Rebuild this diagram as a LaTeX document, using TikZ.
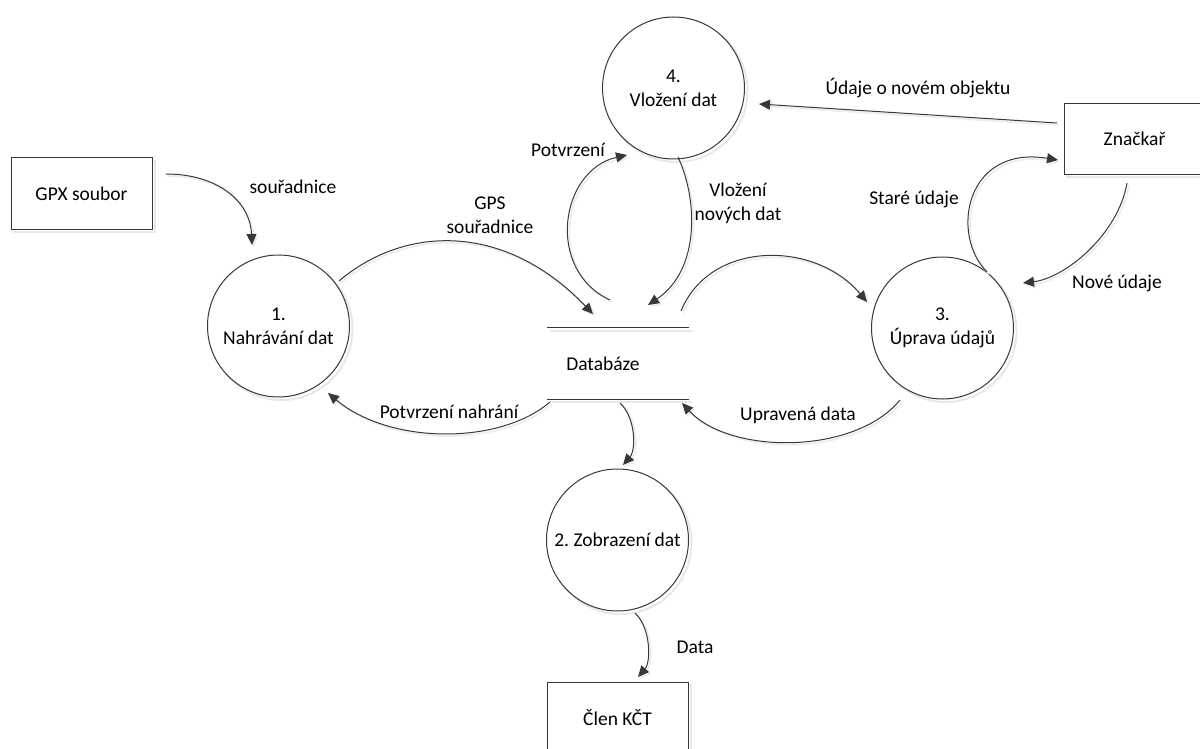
\documentclass[tikz,border=0pt]{standalone}
\usepackage{fontspec}
\setmainfont{Carlito}
\usetikzlibrary{arrows.meta,calc}
\begin{document}
\begin{tikzpicture}[x=0.5pt,y=-0.5pt,
  font=\fontsize{9.75}{12}\selectfont,
  ink/.style={draw=black!78, line width=0.5pt},
  softshadow/.style={preaction={draw=black!9, line width=1pt, transform canvas={shift={(3,3)}}}},
  proc/.style={circle, ink, fill=white, softshadow, minimum size=71pt, inner sep=0pt, align=center},
  ent/.style={rectangle, ink, fill=white, softshadow, minimum width=70.5pt, minimum height=35.5pt, inner sep=0pt},
  flow/.style={ink, -{Triangle[length=5.5pt,width=5pt]},
    preaction={draw=black!7, line width=0.9pt, transform canvas={shift={(2,2)}}}},
  lbl/.style={align=center, inner sep=0pt}]

\useasboundingbox (0,0) rectangle (1200,749);
\clip (0,0) rectangle (1200,749);

% external entities
\node[ent] (gpx)  at (81.5,193.5) {GPX soubor};
\node[ent] (zn)   at (1134.5,139) {Značkař};
\node[ent] (clen) at (617.5,717.5) {Člen KČT};

% processes
\node[proc] (p1) at (278.5,326) {1.\\Nahrávání dat};
\node[proc] (p4) at (673.5,88)  {4.\\Vložení dat};
\node[proc] (p3) at (942.5,328) {3.\\Úprava údajů};
\node[proc] (p2) at (617.5,540) {2.\ Zobrazení dat};

% data store
\node[minimum width=71pt, minimum height=35.5pt, inner sep=0pt] (db) at (618,363.5) {};
\draw[ink, softshadow] (db.north west) -- (db.north east);
\draw[ink, softshadow] (db.south west) -- (db.south east);
\node[lbl] (dbtext) at (603,364) {Databáze};

% data flows
\draw[flow] ($(gpx)+(84.5,-19.5)$) .. controls +(50,0) and +(-2,-45) .. ($(p1)+(-26.5,-81)$);
\draw[flow] ($(p1)+(60.5,-45)$) .. controls +(66,-56) and +(-88,-92) .. ($(db)+(-25,-49.5)$);
\draw[flow] ($(db)+(-8,-63.5)$) .. controls +(-65,-30) and +(-67,15) .. ($(p4)+(-46.5,67)$);
\draw[flow] ($(p4)+(4.5,69)$) .. controls +(20,43) and +(52,-35) .. ($(db)+(30,-58.5)$);
\draw[flow] ($(zn)+(-77.5,-16)$) -- ($(p4)+(85.5,16)$);
\draw[flow] ($(p3)+(44.5,-56)$) .. controls +(-37,-37) and +(-93,-15) .. ($(zn)+(-76.5,21)$);
\draw[flow] ($(zn)+(-7.5,44)$) .. controls +(-9,52) and +(42,-5) .. ($(p3)+(80.5,-45)$);
\draw[flow] ($(db)+(63,-52.5)$) .. controls +(29,-71) and +(-52,-62) .. ($(p3)+(-75.5,-26)$);
\draw[flow] ($(p3)+(-42.5,72)$) .. controls +(-45,55) and +(48,52) .. ($(db)+(64,39.5)$);
\draw[flow] ($(db)+(-68,38.5)$) .. controls +(-50,43) and +(62,52) .. ($(p1)+(49.5,67)$);
\draw[flow] ($(db)+(2,39.5)$) .. controls +(16,15) and +(13,-15) .. ($(p2)+(5.5,-75)$);
\draw[flow] ($(p2)+(17.5,73)$) .. controls +(16,15) and +(13,-15) .. ($(clen)+(20.5,-40.5)$);

% flow labels
\node[lbl] (l1)  at (293,187) {souřadnice};
\node[lbl] (l2)  at (490,215) {GPS\\souřadnice};
\node[lbl] (l3)  at (568,150) {Potvrzení};
\node[lbl] (l4)  at (738,203) {Vložení\\nových dat};
\node[lbl] (l5)  at (918,88)  {Údaje o novém objektu};
\node[lbl] (l6)  at (914,199) {Staré údaje};
\node[lbl] (l7)  at (1117,283) {Nové údaje};
\node[lbl] (l8)  at (798,415) {Upravená data};
\node[lbl] (l9)  at (449,412) {Potvrzení nahrání};
\node[lbl] (l10) at (695,647) {Data};
\end{tikzpicture}
\end{document}
